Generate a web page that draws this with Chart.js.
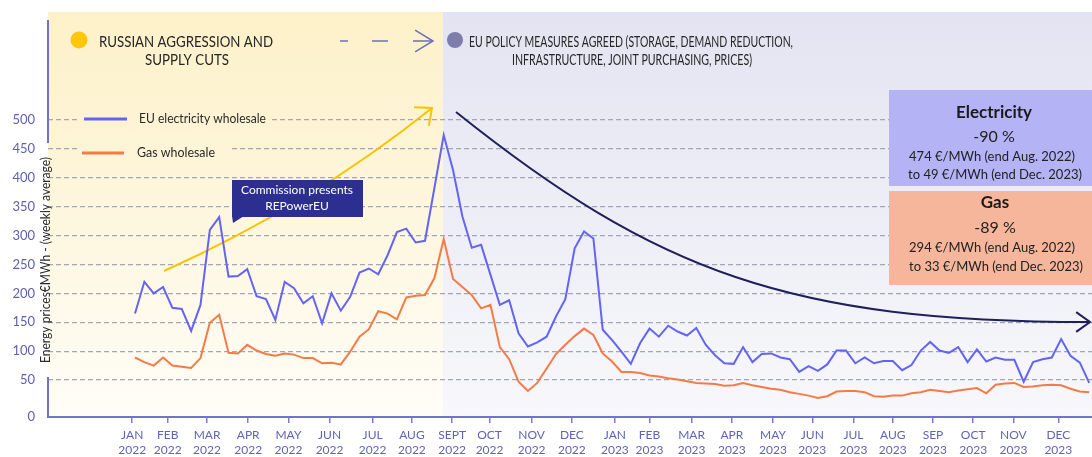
<!DOCTYPE html>
<html>
<head>
<meta charset="utf-8">
<script src="https://cdn.jsdelivr.net/npm/chart.js@4.4.1/dist/chart.umd.min.js"></script>
<style>
  html, body { margin: 0; padding: 0; background: #fff; }
  #wrap { width: 1092px; height: 457px; }
</style>
</head>
<body>
<div id="wrap"><canvas id="priceChart" width="1092" height="457"></canvas></div>
<script>
// weekly averages, EUR/MWh, first week of Jan 2022 to last week of Dec 2023
const electricityWholesale = [
    165, 220, 200, 211, 175, 173, 135, 180, 310, 332,
    229, 230, 242, 195, 190, 154, 220, 209, 183, 195,
    148, 200, 170, 194, 236, 243, 233, 266, 306, 312,
    288, 291, 382, 474,
    413, 333, 279, 284, 232, 180, 188, 131, 108, 115,
    125, 160, 190, 278, 307, 295, 137, 119, 99, 78,
    114, 139, 125, 144, 134, 127, 140, 111, 93, 79,
    78, 107, 81, 95, 96, 89, 86, 64,
    74, 66, 77, 101, 101, 79, 89, 79, 83, 83,
    67, 76, 101, 116, 101, 97, 107, 81, 103, 82,
    89, 85, 85, 47, 81, 86, 89, 121, 92, 80, 45
];
const gasWholesale = [
    89, 81, 75, 89, 75, 73, 71, 88, 149, 163,
    97, 96, 111, 101, 95, 92, 96, 94, 88, 88,
    79, 80, 77, 99, 125, 138, 169, 165, 155, 193,
    196, 197, 226, 294,
    225, 211, 197, 174, 180, 107, 86, 47, 31, 45,
    70, 95, 111, 126, 139, 128, 96, 82, 64, 64,
    62, 58, 56, 53, 51, 48, 45, 44, 43, 40,
    41, 45, 41, 38, 35, 33, 29, 26,
    23, 19, 22, 30, 31, 31, 29, 22, 21, 23,
    23, 27, 29, 33, 31, 29, 32, 34, 36, 27,
    42, 44, 45, 38, 39, 41, 42, 41, 35, 30, 29
];

// x axis labels (month starts, in weeks from the first data point)
const monthNames = ['JAN', 'FEB', 'MAR', 'APR', 'MAY', 'JUN', 'JUL', 'AUG', 'SEPT', 'OCT', 'NOV', 'DEC',
                    'JAN', 'FEB', 'MAR', 'APR', 'MAY', 'JUN', 'JUL', 'AUG', 'SEP', 'OCT', 'NOV', 'DEC'];
const monthYears = ['2022', '2022', '2022', '2022', '2022', '2022', '2022', '2022', '2022', '2022', '2022', '2022',
                    '2023', '2023', '2023', '2023', '2023', '2023', '2023', '2023', '2023', '2023', '2023', '2023'];
const monthStartWeek = [-0.3, 3.5, 7.7, 12.1, 16.4, 20.8, 25.4, 29.6, 33.9, 37.9, 42.4, 46.7,
                        51.3, 55.0, 59.5, 63.8, 68.2, 72.4, 76.8, 81.0, 85.3, 89.6, 93.9, 98.7];
const yTicks = [0, 50, 100, 150, 200, 250, 300, 350, 400, 450, 500];

// week where the EU policy phase begins (background split)
const policyStartWeek = 32.9;

const Y_MIN = -14;
const Y_MAX = 687;
const FONT = 'Lato, "Open Sans", sans-serif';

// 배경 그라데이션
function bandGradient(ctx, area, kind) {
    const g = ctx.createLinearGradient(0, area.top, 0, area.bottom);
    if (kind === 'crisis') {
        g.addColorStop(0, '#fdf1c9');
        g.addColorStop(0.55, '#fef7e0');
        g.addColorStop(1, '#fffdf8');
    } else {
        g.addColorStop(0, '#e3e4f1');
        g.addColorStop(0.55, '#eeeff6');
        g.addColorStop(1, '#f8f8fb');
    }
    return g;
}

function text(ctx, s, x, y, font, color, align, maxW) {
    ctx.font = font;
    ctx.fillStyle = color;
    ctx.textAlign = align || 'center';
    ctx.textBaseline = 'middle';
    if (maxW) ctx.fillText(s, x, y, maxW);
    else ctx.fillText(s, x, y);
}

function chevron(ctx, tx, ty, angle, len, spread) {
    const back = angle + Math.PI;
    ctx.beginPath();
    ctx.moveTo(tx + len * Math.cos(back - spread), ty + len * Math.sin(back - spread));
    ctx.lineTo(tx, ty);
    ctx.lineTo(tx + len * Math.cos(back + spread), ty + len * Math.sin(back + spread));
    ctx.stroke();
}

const decorPlugin = {
    id: 'decor',
    beforeDraw(chart) {
        const { ctx, chartArea: a, scales: { x } } = chart;
        const split = x.getPixelForValue(policyStartWeek);
        ctx.save();
        ctx.fillStyle = '#fff';
        ctx.fillRect(0, 0, chart.width, chart.height);
        ctx.fillStyle = bandGradient(ctx, a, 'crisis');
        ctx.fillRect(a.left, a.top, split - a.left, a.bottom - a.top);
        ctx.fillStyle = bandGradient(ctx, a, 'policy');
        ctx.fillRect(split, a.top, a.right - split, a.bottom - a.top);
        ctx.restore();
    },
    beforeDatasetsDraw(chart) {
        const { ctx, chartArea: a } = chart;
        ctx.save();

        // header: phases
        ctx.fillStyle = '#ffc60a';
        ctx.beginPath(); ctx.arc(79, 40, 8.5, 0, Math.PI * 2); ctx.fill();
        text(ctx, 'RUSSIAN AGGRESSION AND', 186, 42, '15px ' + FONT, '#262626', 'center', 174);
        text(ctx, 'SUPPLY CUTS', 187, 60, '15px ' + FONT, '#262626', 'center', 84);

        ctx.strokeStyle = '#6e70b8';
        ctx.lineWidth = 1.5;
        ctx.beginPath();
        ctx.moveTo(340, 41); ctx.lineTo(348, 41);
        ctx.moveTo(372, 41); ctx.lineTo(388, 41);
        ctx.moveTo(413, 41); ctx.lineTo(432, 41);
        ctx.stroke();
        chevron(ctx, 433, 41, 0, 21, 0.55);

        ctx.fillStyle = '#7f7dab';
        ctx.beginPath(); ctx.arc(455, 40, 8, 0, Math.PI * 2); ctx.fill();
        text(ctx, 'EU POLICY MEASURES AGREED (STORAGE, DEMAND REDUCTION,', 631, 42, '15px ' + FONT, '#262626', 'center', 324);
        text(ctx, 'INFRASTRUCTURE, JOINT PURCHASING, PRICES)', 632, 60, '15px ' + FONT, '#262626', 'center', 240);

        // legend (masks the grid lines behind it)
        ctx.fillStyle = bandGradient(ctx, a, 'crisis');
        ctx.fillRect(80, 110, 192, 18);
        ctx.fillRect(79, 143, 150, 18);
        ctx.lineWidth = 3;
        ctx.strokeStyle = '#6464f4';
        ctx.beginPath(); ctx.moveTo(84, 119); ctx.lineTo(127, 119); ctx.stroke();
        ctx.strokeStyle = '#f47b47';
        ctx.beginPath(); ctx.moveTo(82, 153); ctx.lineTo(124, 153); ctx.stroke();
        text(ctx, 'EU electricity wholesale', 139, 119, '12.5px ' + FONT, '#2a2a2a', 'left', 127);
        text(ctx, 'Gas wholesale', 137, 153, '12.5px ' + FONT, '#2a2a2a', 'left', 78);

        // rising arrow
        ctx.strokeStyle = '#f6c400';
        ctx.lineWidth = 2;
        ctx.beginPath();
        ctx.moveTo(164, 271);
        ctx.quadraticCurveTo(311, 205, 432, 108);
        ctx.stroke();
        chevron(ctx, 432, 108, Math.atan2(-97, 121), 18, 0.72);

        // falling arrow
        ctx.strokeStyle = '#1e1f5c';
        ctx.beginPath();
        ctx.moveTo(456, 112);
        ctx.bezierCurveTo(656, 272, 790, 322, 1090, 322);
        ctx.stroke();
        chevron(ctx, 1090, 322, 0, 17, 0.62);

        // REPowerEU call-out
        ctx.fillStyle = '#2c2f8f';
        ctx.fillRect(232, 180, 131, 37);
        ctx.beginPath();
        ctx.moveTo(232, 216); ctx.lineTo(244, 216); ctx.lineTo(233, 223); ctx.closePath();
        ctx.fill();
        text(ctx, 'Commission presents', 297, 190, '12px ' + FONT, '#fff', 'center', 118);
        text(ctx, 'REPowerEU', 297, 206, '12px ' + FONT, '#fff', 'center');

        // result boxes
        ctx.fillStyle = '#b3b3f6';
        ctx.fillRect(889, 90, 203, 96);
        ctx.fillStyle = '#f5b69c';
        ctx.fillRect(889, 191, 203, 94);
        text(ctx, 'Electricity', 994, 113, 'bold 17px ' + FONT, '#1a1a1a', 'center', 88);
        text(ctx, '-90 %', 994, 137, '16px ' + FONT, '#222', 'center', 48);
        text(ctx, '474 €/MWh (end Aug. 2022)', 992, 157, '13px ' + FONT, '#222', 'center', 180);
        text(ctx, 'to 49 €/MWh (end Dec. 2023)', 995, 175, '13px ' + FONT, '#222', 'center', 188);
        text(ctx, 'Gas', 995, 203, 'bold 17px ' + FONT, '#1a1a1a', 'center', 32);
        text(ctx, '-89 %', 995, 228, '16px ' + FONT, '#222', 'center', 48);
        text(ctx, '294 €/MWh (end Aug. 2022)', 992, 248, '13px ' + FONT, '#222', 'center', 179);
        text(ctx, 'to 33 €/MWh (end Dec. 2023)', 996, 267, '13px ' + FONT, '#222', 'center', 187);

        ctx.restore();
    },
    afterDraw(chart) {
        const { ctx, chartArea: a } = chart;
        ctx.save();
        // y axis line, broken by the axis title
        ctx.strokeStyle = '#6f72c6';
        ctx.lineWidth = 2;
        ctx.beginPath();
        ctx.moveTo(a.left, 20); ctx.lineTo(a.left, 143);
        ctx.moveTo(a.left, 377); ctx.lineTo(a.left, a.bottom);
        ctx.stroke();
        ctx.translate(a.left - 2, 260);
        ctx.rotate(-Math.PI / 2);
        text(ctx, 'Energy prices€MWh - (weekly average)', 0, 0, '13px ' + FONT, '#2a2a2a', 'center', 206);
        ctx.restore();
    }
};

function toPoints(series) {
    return series.map((v, i) => ({ x: i, y: v }));
}

window.onload = function () {
    const ctx = document.getElementById('priceChart').getContext('2d');
    new Chart(ctx, {
        type: 'line',
        data: {
            datasets: [
                {
                    label: 'EU electricity wholesale',
                    data: toPoints(electricityWholesale),
                    borderColor: '#6464f4',
                    borderWidth: 2,
                    pointRadius: 0,
                    tension: 0
                },
                {
                    label: 'Gas wholesale',
                    data: toPoints(gasWholesale),
                    borderColor: '#f47b47',
                    borderWidth: 2,
                    pointRadius: 0,
                    tension: 0
                }
            ]
        },
        options: {
            responsive: false,
            animation: false,
            devicePixelRatio: 1,
            layout: { padding: { top: 12, left: 0, right: 0, bottom: 0 } },
            plugins: {
                legend: { display: false },
                title: { display: false },
                tooltip: { enabled: false }
            },
            scales: {
                x: {
                    type: 'linear',
                    min: -9.3,
                    max: 102.3,
                    afterFit: s => { s.height = 40; s.paddingLeft = 0; s.paddingRight = 0; },
                    afterBuildTicks: s => { s.ticks = monthStartWeek.map(v => ({ value: v })); },
                    ticks: {
                        autoSkip: false,
                        maxRotation: 0,
                        padding: 5,
                        color: '#6064b2',
                        font: { family: FONT, size: 12, lineHeight: 1.25 },
                        callback: (value, index) => [monthNames[index], monthYears[index]]
                    },
                    grid: {
                        drawOnChartArea: false,
                        drawTicks: true,
                        tickLength: 6,
                        color: '#7b7ecc',
                        lineWidth: 1.5
                    },
                    border: { display: true, color: '#7073c9', width: 2 }
                },
                y: {
                    min: Y_MIN,
                    max: Y_MAX,
                    afterFit: s => { s.width = 48; s.paddingTop = 0; s.paddingBottom = 0; },
                    afterBuildTicks: s => { s.ticks = yTicks.map(v => ({ value: v === 0 ? Y_MIN : v })); },
                    ticks: {
                        padding: 13,
                        color: '#5e61ad',
                        font: { family: FONT, size: 13 },
                        callback: v => (v <= 0 ? '0' : String(v))
                    },
                    grid: {
                        drawTicks: false,
                        lineWidth: 1.2,
                        color: c => (c.tick && c.tick.value <= 0 ? 'rgba(0,0,0,0)' : '#a4a6b8')
                    },
                    border: { display: false, dash: [5, 3] }
                }
            }
        },
        plugins: [decorPlugin]
    });
};
</script>
</body>
</html>
